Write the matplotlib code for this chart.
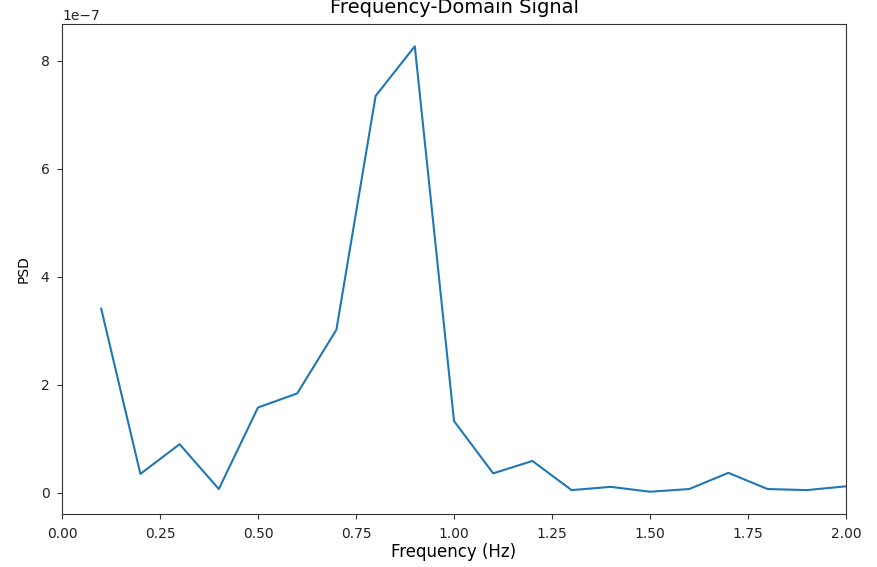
import matplotlib
matplotlib.use("Agg")
import matplotlib.pyplot as plt

# PSD values (units of 1e-7)
freqs = [0.1, 0.2, 0.3, 0.4, 0.5, 0.6, 0.7, 0.8, 0.9, 1.0,
         1.1, 1.2, 1.3, 1.4, 1.5, 1.6, 1.7, 1.8, 1.9, 2.0]
psd_e7 = [3.41, 0.35, 0.90, 0.07, 1.58, 1.84, 3.02, 7.35, 8.27, 1.33,
          0.36, 0.59, 0.05, 0.11, 0.02, 0.07, 0.37, 0.07, 0.05, 0.12]
psd = [v * 1e-7 for v in psd_e7]

fig = plt.figure(figsize=(8.77, 5.67), dpi=100)
ax = fig.add_axes([62 / 877, 53 / 567, 784 / 877, 490 / 567])

ax.plot(freqs, psd, color="#1f77b4", linewidth=1.5)
ax.set_xlim(0, 2)
ax.set_title("Frequency-Domain Signal", fontsize=14, pad=8)
ax.set_xlabel("Frequency (Hz)", fontsize=12, labelpad=2)
ax.set_ylabel("PSD", fontsize=10, labelpad=7)
ax.tick_params(labelsize=10, pad=5.5, color="#333333", labelcolor="#222222")
for s in ax.spines.values():
    s.set_color("#333333")

fig.savefig("out.png", dpi=100)
